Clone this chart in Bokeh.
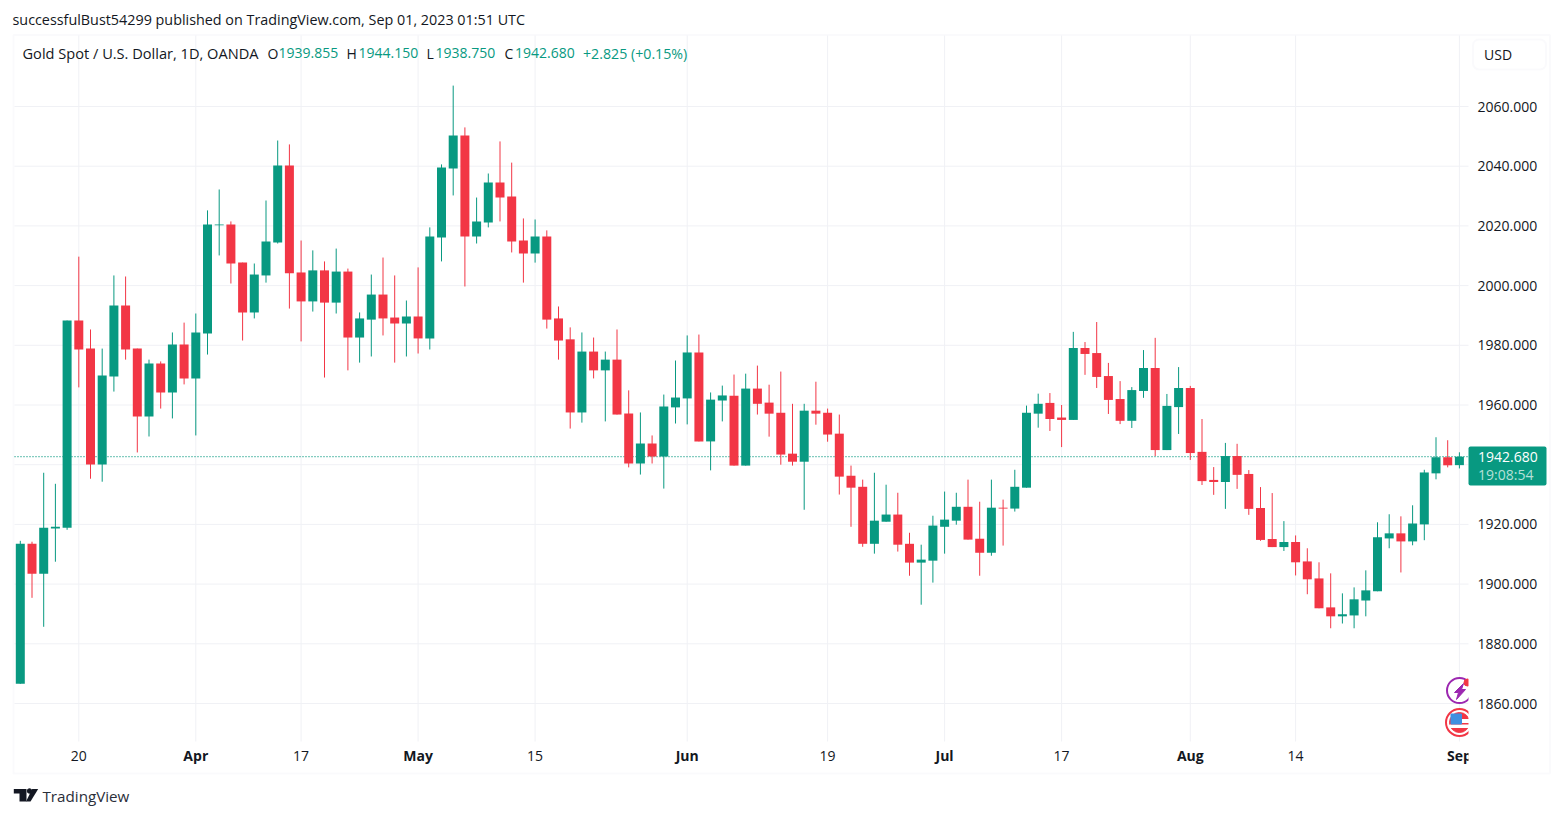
from bokeh.plotting import figure
from bokeh.models import (Label, BoxAnnotation, FixedTicker, LinearAxis, ColumnDataSource,
                          PolyAnnotation, Range1d)
from bokeh.embed import file_html
from bokeh.resources import INLINE

FONT = "Open Sans"
GREEN = "#089981"
RED = "#f23645"
DARK = "#131722"
GRID = "#f0f1f5"
FRAME = "#eeeef5"

opens = [1866.6,1913.5,1903.5,1918.6,1918.9,1988.3,1978.9,1940.1,1969.55,1993.3,
         1978.9,1956.15,1973.9,1964.2,1980.3,1968.9,1983.95,2020.2,2020.5,2007.7,
         1991,2003.4,2014.4,2040.2,2004.4,1994.7,2005.1,1994.3,2004.7,1982.6,
         1988.6,1997,1989.3,1987.3,1989.65,1982.3,2016.1,2039.2,2050.3,2016.45,
         2021.1,2034.5,2029.85,2015.1,2010.75,2016.45,1989,1982,1957.5,1977.9,
         1971.6,1975.2,1957.15,1940.4,1947.1,1942.75,1959.2,1962.2,1977.6,1947.8,
         1961.5,1963.1,1939.7,1965.5,1960.8,1957.4,1943.7,1941,1958.1,1957.4,
         1950.4,1936.3,1932.6,1913.5,1920.9,1923.3,1913.5,1907.2,1907.85,1919.2,
         1921.25,1925.9,1915.2,1910.5,1925.6,1925.3,1932.3,1957.1,1960.7,1955.8,
         1955,1979.1,1977.4,1969.7,1962,1954.7,1964.7,1972.4,1944.9,1959.3,
         1965.7,1944.3,1934.9,1934.2,1942.9,1936.9,1925.5,1915.1,1912.4,1914.1,
         1907.6,1901.9,1892.2,1889.2,1889.5,1894.5,1897.6,1915.3,1917,1914.3,
         1920,1937.1,1942.5,1939.855]
highs = [1914.5,1914.2,1937.3,1933.6,1988.3,2009.7,1985.3,1978.9,2003.4,2003.05,
         1978.9,1975.2,1974.6,1984.3,1987.6,1990.65,2025.2,2032.2,2021.5,2007.7,
         2007.4,2028.5,2048.6,2047.3,2015.1,2011.8,2008.1,2012.4,2005.7,1991,
         2003.7,2009.4,2003.4,1995,2006.1,2019.5,2040.6,2067,2053,2029.5,
         2037.55,2048.3,2041.2,2022.5,2022.15,2018.5,1993,1986,1984.3,1982.6,
         1977.9,1985.3,1964.9,1957.5,1949.8,1963.5,1974.9,1983.3,1983.6,1964.2,
         1966.5,1970.2,1970.5,1973.2,1966.8,1971.2,1960.4,1960.4,1967.8,1958.8,
         1956.8,1939.7,1935,1937.3,1933.3,1930.6,1917.2,1913.2,1922.9,1931,
         1930.6,1935,1927.6,1935,1928.3,1938.3,1959.8,1963.8,1964,1960,
         1984.5,1981.1,1987.8,1974.1,1968,1966,1978.4,1982.5,1963.7,1972.7,
         1966.4,1955.3,1939.2,1947.3,1947,1938.2,1932.5,1930.5,1921.1,1916.3,
         1912,1907.3,1903.6,1896.9,1898.9,1904.6,1920.7,1923.4,1922.7,1926.4,
         1938.3,1949.2,1948.2,1944.15]
lows = [1866.6,1895.4,1885.7,1907.5,1918.2,1965.9,1935.3,1934.3,1964.5,1975.2,
        1944.1,1949.45,1958.8,1955.5,1966.9,1949.8,1976.9,2010.1,2000.7,1981.6,
        1989,2001,2014.1,1992.3,1981.3,1991.3,1969.2,1990.65,1971.6,1974.2,
        1976.25,1983.3,1974.2,1976.25,1977.25,1978.6,2008.1,2030.2,1999.7,2014.1,
        2019.5,2021.5,2011.1,2001,2007.7,1985.6,1975.2,1952.1,1954.1,1968.9,
        1954.5,1956.8,1939.1,1936.7,1940.4,1932,1953.8,1953.5,1947.8,1938.1,
        1954.5,1939.7,1939.7,1956.8,1949.4,1940,1939.7,1924.9,1953.4,1947.7,
        1930,1919.2,1912.5,1910.2,1920.9,1910.9,1902.8,1893.1,1900.5,1910.2,
        1919.9,1914.9,1902.8,1909.5,1912.9,1924.3,1932.3,1952.4,1951.3,1945.9,
        1955,1970.1,1965.7,1957,1953.6,1952.3,1962.4,1942.9,1944.9,1950.3,
        1941.6,1933.2,1929.9,1925.2,1931.9,1923.2,1914.5,1912.4,1911.1,1902.9,
        1896.6,1891.9,1885.2,1886.8,1885.2,1889.2,1897.6,1912,1903.9,1913,
        1914.7,1935.1,1939.1,1938.75]
closes = [1913.5,1903.5,1918.9,1919.2,1988.3,1978.6,1940.1,1969.9,1993.3,1978.6,
          1956.15,1973.9,1964.2,1980.3,1968.9,1984.3,2020.5,2020.5,2007.4,1991,
          2003.7,2014.8,2040.2,2004.1,1994.7,2005.1,1994.3,2004.7,1982.6,1989,
          1997,1989,1987.3,1989.65,1982.3,2016.45,2039.6,2050.3,2016.45,2021.5,
          2034.5,2029.5,2014.8,2010.75,2016.45,1988.6,1981.6,1957.5,1977.9,1971.6,
          1975.2,1956.8,1940.4,1947.1,1942.75,1959.5,1962.5,1977.6,1947.8,1961.8,
          1963.2,1939.7,1965.5,1960.4,1957.1,1943.4,1941,1958.1,1957.1,1950.1,
          1936,1932.3,1913.5,1921.25,1923.3,1913.2,1907.2,1908.2,1919.6,1921.6,
          1925.9,1914.9,1910.5,1925.6,1925.3,1932.6,1957.4,1960.4,1955.3,1955,
          1979.1,1977.1,1969.4,1961.7,1954.7,1965,1972.4,1944.9,1959.7,1965.7,
          1943.9,1934.5,1934.2,1942.9,1936.6,1925.2,1914.8,1912.4,1914.1,1907.3,
          1901.6,1891.9,1889.2,1889.9,1894.9,1897.9,1915.7,1917,1914.3,1920.3,
          1937.4,1942.5,1939.8,1942.68]

date_ticks = {5: "20", 24: "17", 44: "15", 69: "19", 89: "17", 109: "14"}
month_ticks = {15: "Apr", 34: "May", 57: "Jun", 79: "Jul", 100: "Aug", 123: "Sep"}
price_ticks = [1860, 1880, 1900, 1920, 1940, 1960, 1980, 2000, 2020, 2040, 2060]
last_price = 1942.68
header = "successfulBust54299 published on TradingView.com, Sep 01, 2023 01:51 UTC"

# canvas geometry in window pixels; the frame fills the whole canvas, so that
# annotations placed outside the price pane are not clipped
W, H = 1555, 809
FL, FR, FT, FB = 14, 1468, 35, 741
PX_PER_BAR = 11.7
X0_PX = 19.8
PX_PER_UNIT = 2.985
Y2060_PX = 106.0

def xd(px):
    return (px - X0_PX) / PX_PER_BAR
def yd(py):
    return 2060 - (py - Y2060_PX) / PX_PER_UNIT
def sx(px):
    return px
def sy(py):
    return H - py

p = figure(width=W, height=H, output_backend="svg", toolbar_location=None,
           x_range=Range1d(xd(0), xd(W)), y_range=Range1d(yd(H), yd(0)),
           x_axis_location=None, y_axis_location=None,
           min_border_left=0, min_border_right=0, min_border_top=0, min_border_bottom=0,
           background_fill_color="white", border_fill_color="white", outline_line_color=None)
p.xgrid.visible = False
p.ygrid.visible = False

def axis(ticker_vals, overrides, loc, standoff, style="normal"):
    return LinearAxis(ticker=FixedTicker(ticks=ticker_vals), major_label_overrides=overrides,
                      fixed_location=loc, major_tick_line_color=None, minor_tick_line_color=None,
                      major_tick_in=0, major_tick_out=0, minor_tick_in=0, minor_tick_out=0,
                      axis_line_color=None, major_label_text_font=FONT,
                      major_label_text_font_size="14px", major_label_text_font_style=style,
                      major_label_text_color=DARK, major_label_standoff=standoff)

p.add_layout(axis(price_ticks, {t: f"{t}.000" for t in price_ticks}, xd(FR), 9), "right")
p.add_layout(axis(list(date_ticks), date_ticks, yd(FB), 9), "below")
p.add_layout(axis(list(month_ticks), month_ticks, yd(FB), 4, "bold"), "below")

# grid
vt = list(date_ticks) + list(month_ticks)
p.segment(vt, [yd(FB)] * len(vt), vt, [yd(FT)] * len(vt), line_color=GRID, line_width=1, level="underlay")
p.segment([xd(FL)] * len(price_ticks), price_ticks, [xd(FR)] * len(price_ticks), price_ticks,
          line_color=GRID, line_width=1, level="underlay")
p.segment([xd(FL)], [last_price], [xd(FR)], [last_price], line_color=GREEN, line_width=1.3,
          line_dash="1 2", level="underlay")

# candles
idx = list(range(len(opens)))
colors = [GREEN if c >= o else RED for o, c in zip(opens, closes)]
src = ColumnDataSource(dict(x=idx, o=opens, h=highs, l=lows, c=closes,
                            top=[max(a, b) for a, b in zip(opens, closes)],
                            bot=[min(a, b) for a, b in zip(opens, closes)],
                            color=colors))
p.segment("x", "h", "x", "l", source=src, line_color="color", line_width=1)
p.vbar("x", 9 / PX_PER_BAR, "bot", "top", source=src, fill_color="color", line_color=None)

# event icons
p.scatter([xd(1459)], [yd(690)], size=25, marker="circle", fill_color="white",
          line_color="#9c27b0", line_width=2)
p.patch([xd(v) for v in (1463, 1454, 1458, 1456, 1465, 1461)],
        [yd(v) for v in (683, 692, 692, 699, 689, 689)], color="#9c27b0")
p.scatter([xd(1467)], [yd(682)], size=7, marker="circle", color=RED)
p.scatter([xd(1459)], [yd(722)], size=27, marker="circle", fill_color="white",
          line_color=RED, line_width=2)
p.scatter([xd(1459)], [yd(722)], size=20, marker="circle", color=RED)
p.quad(left=[xd(1461), xd(1449)], right=[xd(1470), xd(1470)],
       top=[yd(719), yd(724.5)], bottom=[yd(722), yd(727)], color="white")
p.quad(left=[xd(1450.5)], right=[xd(1461)], top=[yd(713.5)], bottom=[yd(723.5)], color="#3f8fe0")

def box(l, r, t, b, **kw):
    p.add_layout(BoxAnnotation(left=sx(l), right=sx(r), top=sy(t), bottom=sy(b),
                               left_units="screen", right_units="screen", top_units="screen",
                               bottom_units="screen", **kw))

# the pane and the time scale cut off what runs past the price scale
box(1468, 1477, 670, 771, fill_color="white", fill_alpha=1, line_color=None)
# outer frame
box(13, 1549.5, 34.5, 773, fill_alpha=0, line_color=FRAME, line_width=2)
# USD button
box(1472.5, 1545.5, 39, 69, fill_color="white", fill_alpha=1, line_color=FRAME, line_width=2,
    border_radius=6)
# price tag
box(1468, 1546, 446, 485, fill_color=GREEN, fill_alpha=1, line_color=None, border_radius=2)

def text(s, px, py, color=DARK, size="14px", align="left", style="normal"):
    p.add_layout(Label(x=sx(px), y=sy(py), x_units="screen", y_units="screen", text=s,
                       text_font=FONT, text_font_size=size, text_color=color, text_align=align,
                       text_baseline="middle", text_font_style=style))

text(header, 12, 19, size="14.35px")
text("Gold Spot / U.S. Dollar, 1D, OANDA", 22, 52.5, size="14.6px")
text("O", 267, 52.5)
text("1939.855", 278, 52.5, GREEN)
text("H", 346, 52.5)
text("1944.150", 358, 52.5, GREEN)
text("L", 426, 52.5)
text("1938.750", 435, 52.5, GREEN)
text("C", 504, 52.5)
text("1942.680", 514.5, 52.5, GREEN)
text("+2.825 (+0.15%)", 582.5, 52.5, GREEN, "14.2px")
text("USD", 1483.5, 53.5)
text("1942.680", 1477.5, 456, "white")
text("19:08:54", 1477.5, 474, "#b5e0d8")
text("TradingView", 42, 795, "#2a2e39", "15.2px")

# logo
def poly(xs, ys, color=DARK):
    p.add_layout(PolyAnnotation(xs=[sx(v) for v in xs], ys=[sy(v) for v in ys],
                                xs_units="screen", ys_units="screen",
                                fill_color=color, fill_alpha=1, line_color=None))
poly([13.3, 26, 26, 19, 19, 13.3], [788.5, 788.5, 801, 801, 793, 793])
p.scatter([xd(29)], [yd(790.5)], size=4.5, marker="circle", color=DARK)
poly([31.7, 37.7, 30, 25.5], [788.5, 788.5, 801, 801])

open("out.html", "w").write(file_html(p, INLINE))
